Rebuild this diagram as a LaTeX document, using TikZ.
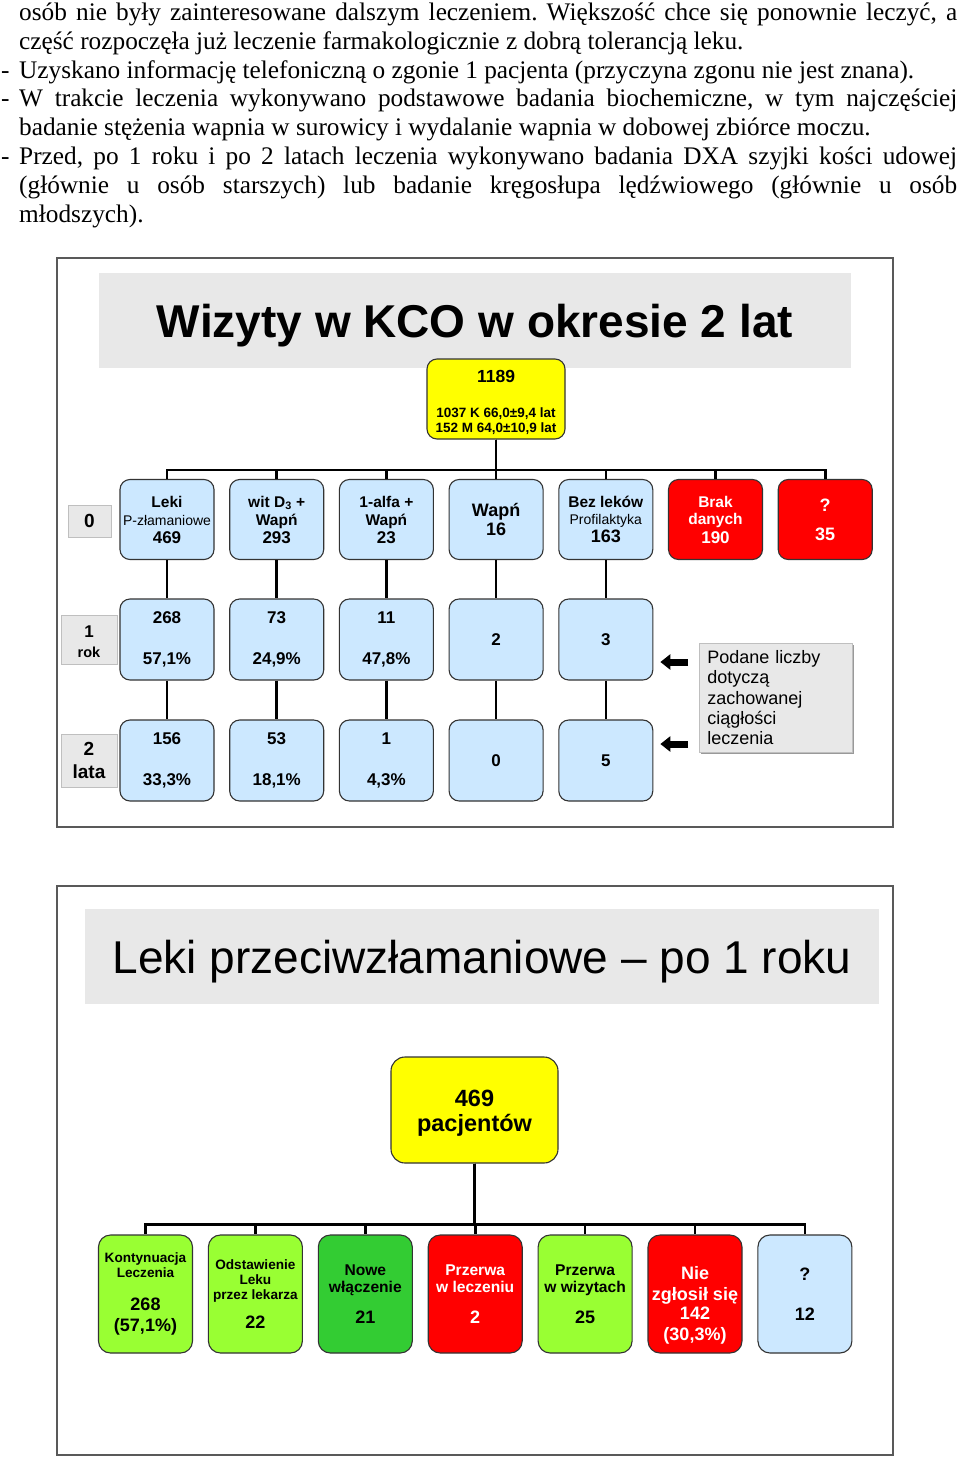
\documentclass[tikz,border=0pt]{standalone}
\usepackage{fontspec}
\setmainfont{Liberation Serif}
\newfontfamily\arial{Liberation Sans}
\usepackage{tikz}
\usetikzlibrary{arrows.meta,positioning,calc,shadows}
\definecolor{boxblue}{HTML}{CCE8FF}
\definecolor{panel}{HTML}{E8E8E8}
\definecolor{lgreen}{HTML}{99FF33}
\definecolor{dgreen}{HTML}{33CC33}
\definecolor{alarm}{HTML}{FF0000}
\definecolor{ylw}{HTML}{FFFF00}
\definecolor{edge}{HTML}{333333}
\frenchspacing
\newcommand\fsz[2]{\fontsize{#1}{#2}\selectfont}
\newcommand\jl[1]{\makebox[938pt][s]{#1}}
\tikzset{
  prose/.style={anchor=base west,inner sep=0pt,font=\fsz{25.3}{29}},
  panelframe/.style={draw=black!65,line width=1.4pt},
  headbar/.style={fill=panel,inner sep=0pt,minimum height=95pt,text depth=0pt},
  card/.style={draw=edge,line width=1.1pt,rounded corners=10pt,align=center,inner sep=0pt,minimum width=94pt},
  cardb/.style={card,fill=boxblue},
  cardr/.style={card,fill=alarm,text=white},
  cardg/.style={card,fill=lgreen},
  carddg/.style={card,fill=dgreen},
  rootbox/.style={card,fill=ylw},
  sidetag/.style={fill=panel,draw=black!25,line width=0.6pt,
    drop shadow={shadow xshift=1.3pt,shadow yshift=-1.3pt,fill=black!40,opacity=1},
    align=center,inner sep=0pt,font=\arial\bfseries},
  link/.style={draw=black,line width=2.6pt},
  fatarrow/.style={-{Triangle[length=10pt,width=15pt]},line width=7pt}
}

\begin{document}
\begin{tikzpicture}[x=1pt,y=-1pt]
  \useasboundingbox (0,0) rectangle (960,1458);

  % text above the charts
  \node[prose] (p1) at (19,20.5) {\jl{osób nie były zainteresowane dalszym leczeniem. Większość chce się ponownie leczyć, a}};
  \node[prose] (p2) at (19,49.3) {część rozpoczęła już leczenie farmakologicznie z dobrą tolerancją leku.};
  \node[prose] (m3) at (1,78.1) {-};
  \node[prose] (p3) at (19,78.1) {Uzyskano informację telefoniczną o zgonie 1 pacjenta (przyczyna zgonu nie jest znana).};
  \node[prose] (m4) at (1,106.9) {-};
  \node[prose] (p4) at (19,106.9) {\jl{W trakcie leczenia wykonywano podstawowe badania biochemiczne, w tym najczęściej}};
  \node[prose] (p5) at (19,135.7) {badanie stężenia wapnia w surowicy i wydalanie wapnia w dobowej zbiórce moczu.};
  \node[prose] (m6) at (1,164.5) {-};
  \node[prose] (p6) at (19,164.5) {\jl{Przed, po 1 roku i po 2 latach leczenia wykonywano badania DXA szyjki kości udowej}};
  \node[prose] (p7) at (19,193.3) {\jl{(głównie u osób starszych) lub badanie kręgosłupa lędźwiowego (głównie u osób}};
  \node[prose] (p8) at (19,222.1) {młodszych).};

  % chart 1: visits
  \draw[panelframe] (57,258) rectangle (893,827);
  \node[headbar,minimum width=752pt,font=\arial\bfseries\fsz{46}{50}] (title1) at (475,320.5) {Wizyty w KCO w okresie 2 lat};
  \node[rootbox,minimum width=138pt,minimum height=80pt,font=\arial\bfseries\fsz{13.5}{14.5}] (root1) at (496,399)
    {\rule{0pt}{19pt}{\fsz{17.5}{18}1189}\\[21pt]1037 K 66,0±9,4 lat\\152 M 64,0±10,9 lat};

  \foreach \i/\st/\txt in {
      1/cardb/{Leki\\{\mdseries\fsz{14}{18}P-złamaniowe}\\{\fsz{17}{18}469}},
      2/cardb/{wit D\textsubscript{3} +\\Wapń\\{\fsz{17}{18}293}},
      3/cardb/{1-alfa +\\Wapń\\{\fsz{17}{18}23}},
      4/cardb/{{\fsz{18}{19}Wapń}\\[1pt]{\fsz{18}{19}16}},
      5/cardb/{Bez leków\\[-1pt]{\mdseries\fsz{14}{18}Profilaktyka}\\{\fsz{18}{18}163}},
      6/cardr/{Brak\\[-1pt]danych\\[1pt]{\fsz{17}{18}190}},
      7/cardr/{{\fsz{18}{19}?}\\[11pt]{\fsz{18}{19}35}}}{
    \node[\st,minimum height=80pt,font=\arial\bfseries\fsz{15.5}{18}] (b\i) at ({167+109.7*(\i-1)},519.5) {\txt};
    \draw[link] (root1.south) |- ($(b\i.north)+(0,-9)$) -- (b\i.north);
  }

  \foreach \i/\na/\nb in {1/{268\\[23pt]57,1\%}/{156\\[23pt]33,3\%},
                          2/{73\\[23pt]24,9\%}/{53\\[23pt]18,1\%},
                          3/{11\\[23pt]47,8\%}/{1\\[23pt]4,3\%},
                          4/2/0,5/3/5}{
    \node[cardb,minimum height=81pt,font=\arial\bfseries\fsz{17}{18}] (c\i) at ({167+109.7*(\i-1)},639.5) {\na};
    \node[cardb,minimum height=81pt,font=\arial\bfseries\fsz{17}{18}] (d\i) at ({167+109.7*(\i-1)},760.5) {\nb};
    \draw[link] (b\i.south) -- (c\i.north);
    \draw[link] (c\i.south) -- (d\i.north);
  }

  \node[sidetag,minimum width=43pt,minimum height=32pt,font=\arial\bfseries\fsz{19}{20}] (t0) at (89.5,521) {0};
  \node[sidetag,minimum width=56pt,minimum height=49pt,font=\arial\bfseries\fsz{17}{20}] (t1) at (89,639.5) {\rule{0pt}{16pt}1\\{\fsz{14.5}{20}rok}};
  \node[sidetag,minimum width=56pt,minimum height=53pt,font=\arial\bfseries\fsz{19}{23}] (t2) at (89,760.5) {2\\lata};

  \node[sidetag,anchor=north west,font=\arial\fsz{18}{20.3},align=left,text width=137pt,inner xsep=8pt,minimum height=109pt] (note) at (699,643)
    {Podane liczby\\dotyczą\\zachowanej\\ciągłości\\leczenia};
  \coordinate (a1) at ($(note.north west)+(-11,19)$);
  \coordinate (a2) at ($(note.north west)+(-11,101)$);
  \draw[fatarrow] (a1) -- ($(a1 -| c5.east)+(7,0)$);
  \draw[fatarrow] (a2) -- ($(a2 -| d5.east)+(7,0)$);

  % chart 2: after one year
  \draw[panelframe] (57,886) rectangle (893,1455);
  \node[headbar,minimum width=794pt,font=\arial\fsz{46}{50}] (title2) at (482,956.5) {Leki przeciwzłamaniowe – po 1 roku};
  \node[rootbox,minimum width=167pt,minimum height=106pt,rounded corners=14pt,font=\arial\bfseries\fsz{23.5}{25}] (root2) at (474.5,1110) {\rule{0pt}{22pt}469\\pacjentów};

  \foreach \i/\st/\txt in {
      1/cardg/{{\fsz{13.6}{15}Kontynuacja}\\[-2pt]{\fsz{13.6}{15}Leczenia}\\[16pt]{\fsz{18}{20}268}\\[4pt]{\fsz{18}{20}(57,1\%)}},
      2/cardg/{{\fsz{13.6}{15}Odstawienie}\\[-2pt]{\fsz{13.6}{15}Leku}\\[-2pt]{\fsz{13.6}{15}przez lekarza}\\[12pt]{\fsz{18}{20}22}},
      3/carddg/{Nowe\\włączenie\\[14pt]{\fsz{18}{20}21}},
      4/cardr/{Przerwa\\w leczeniu\\[14pt]{\fsz{18}{20}2}},
      5/cardg/{Przerwa\\w wizytach\\[14pt]{\fsz{18}{20}25}},
      6/cardr/{\rule{0pt}{36pt}{\fsz{18}{20}Nie}\\[4pt]{\fsz{18}{20}zgłosił się}\\[2pt]{\fsz{18}{20}142}\\[4pt]{\fsz{18}{20}(30,3\%)}},
      7/cardb/{{\fsz{18}{20}?}\\[23pt]{\fsz{18}{20}12}}}{
    \node[\st,minimum height=118pt,rounded corners=12pt,font=\arial\bfseries\fsz{15.6}{17}] (e\i) at ({145.5+109.9*(\i-1)},1294) {\txt};
    \draw[link] (root2.south) |- ($(e\i.north)+(0,-10)$) -- (e\i.north);
  }
\end{tikzpicture}
\end{document}
